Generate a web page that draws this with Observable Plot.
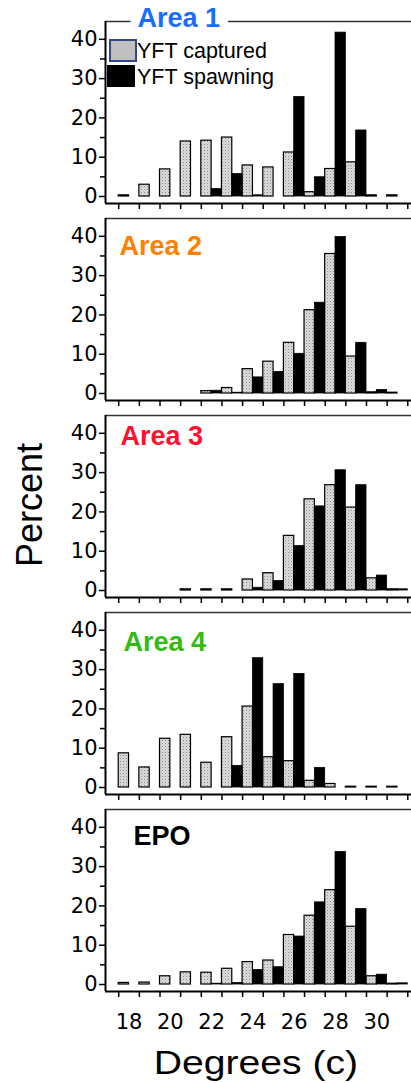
<!DOCTYPE html>
<html><head><meta charset="utf-8">
<script src="https://cdn.jsdelivr.net/npm/d3@7"></script>
<script src="https://cdn.jsdelivr.net/npm/@observablehq/plot@0.6"></script>
<style>
body{margin:0;background:#fff;}
#wrap{position:relative;width:411px;height:1083px;overflow:hidden;background:#fff;font-family:"Liberation Sans",Arial,sans-serif;}
#charts svg{display:block;}
.lab{position:absolute;color:#000;white-space:nowrap;}
</style></head><body>
<svg width="0" height="0" style="position:absolute">
  <defs>
    <pattern id="stip" width="3" height="3" patternUnits="userSpaceOnUse">
      <rect width="3" height="3" fill="#dcdcdc"/>
      <rect x="0" y="0" width="1" height="1" fill="#8a8a8a"/>
      <rect x="1.5" y="1.5" width="1" height="1" fill="#b4b4b4"/>
    </pattern>
  </defs>
</svg>
<div id="wrap">
  <div id="charts"></div>
  <div class="lab" style="left:109px;top:39px;width:24px;height:19px;background:#c0c0c0;border:2px solid #34498a;"></div>
  <div class="lab" style="left:107px;top:65px;width:28px;height:22px;background:#000;"></div>
  <div class="lab" style="left:137px;top:39px;font-size:21.5px;line-height:25px;">YFT captured</div>
  <div class="lab" style="left:137px;top:65px;font-size:21.5px;line-height:25px;">YFT spawning</div>
  <div class="lab" style="left:30px;top:505px;font-size:36px;transform:translate(-50%,-50%) rotate(-90deg);">Percent</div>
  <div class="lab" style="left:256px;top:1062px;font-size:34px;transform:translate(-50%,-50%) scaleX(1.15);">Degrees (c)</div>
</div>
<script>
// ---- data ----
const degrees = [18, 19, 20, 21, 22, 23, 24, 25, 26, 27, 28, 29, 30, 31];
const areaNames = ["Area 1", "Area 2", "Area 3", "Area 4", "EPO"];
const areaColors = ["#1a6cff", "#ff8000", "#ff1030", "#33bb11", "#000000"];
const xTickLabels = [18, 20, 22, 24, 26, 28, 30];
const xTickEdges = [17.5, 18.5, 19.5, 20.5, 21.5, 22.5, 23.5, 24.5, 25.5, 26.5, 27.5, 28.5, 29.5, 30.5, 31.5];
const yTicks = [0, 10, 20, 30, 40];
const yMinorTicks = [5, 15, 25, 35];

const area1Captured = [0.3, 3.0, 6.9, 14.0, 14.2, 15.0, 7.9, 7.4, 11.2, 1.1, 7.0, 8.7, 0.3, 0.3];
const area1Spawning = [0, 0, 0, 0, 1.9, 5.7, 0.3, 0, 25.3, 4.9, 41.7, 16.8, 0, 0];
const area2Captured = [0, 0, 0, 0, 0.6, 1.4, 6.2, 8.1, 12.9, 21.2, 35.5, 9.4, 0.3, 0.2];
const area2Spawning = [0, 0, 0, 0, 0.7, 0.2, 4.1, 5.5, 10.1, 23.1, 39.8, 12.9, 0.9, 0];
const area3Captured = [0, 0, 0, 0.3, 0.3, 0.3, 2.8, 4.4, 13.9, 23.2, 26.8, 21.1, 3.1, 0.3];
const area3Spawning = [0, 0, 0, 0, 0, 0, 0.7, 2.4, 11.3, 21.4, 30.6, 26.8, 3.8, 0.3];
const area4Captured = [8.7, 5.1, 12.4, 13.4, 6.3, 12.8, 20.6, 7.7, 6.7, 1.7, 0.9, 0.2, 0.2, 0.2];
const area4Spawning = [0, 0, 0, 0, 0, 5.5, 32.9, 26.3, 28.9, 5.0, 0, 0, 0, 0];
const epoCaptured = [0.4, 0.5, 2.1, 3.1, 3.0, 4.0, 5.7, 6.1, 12.6, 17.5, 24.0, 14.7, 2.1, 0.2];
const epoSpawning = [0, 0, 0, 0, 0.2, 0.4, 3.7, 4.4, 12.2, 20.9, 33.7, 19.2, 2.5, 0.3];

const captured = [area1Captured, area2Captured, area3Captured, area4Captured, epoCaptured];
const spawning = [area1Spawning, area2Spawning, area3Spawning, area4Spawning, epoSpawning];
const titleOffsets = [[32, -3], [14, 28], [15, 21], [18, 30], [28, 27]];

const xDomain = [16.86, 31.68];
const yDomain = [-1.78, 44.53];
const tickFont = "DejaVu Sans, sans-serif";

const host = document.getElementById("charts");
areaNames.forEach((name, i) => {
  const cap = degrees.map((d, j) => ({deg: d, v: captured[i][j]})).filter(r => r.v > 0);
  const spa = degrees.map((d, j) => ({deg: d, v: spawning[i][j]})).filter(r => r.v > 0);
  const first = i === 0, last = i === areaNames.length - 1;
  const marginTop = first ? 21 : 10;
  const marginBottom = last ? 40 : 5;
  const marks = [
    Plot.rectY(cap, {x1: d => d.deg - 0.5, x2: d => d.deg, y1: 0, y2: "v", fill: "url(#stip)", stroke: "#000", strokeWidth: 1.2}),
    Plot.rectY(spa, {x1: d => d.deg, x2: d => d.deg + 0.5, y1: 0, y2: "v", fill: "#000", stroke: "#000", strokeWidth: 0.8}),
    Plot.ruleY([yDomain[1]], {stroke: "#333", strokeWidth: 1.6}),
    Plot.ruleY([yDomain[0]], {stroke: "#000", strokeWidth: 2}),
    Plot.ruleX([xDomain[0]], {stroke: "#000", strokeWidth: 2}),
    Plot.axisY({ticks: yTicks, tickSize: 6, tickPadding: 2, fontSize: 21, fontFamily: tickFont, strokeWidth: 1.5, label: null}),
    Plot.axisY({ticks: yMinorTicks, tickSize: 5, tickFormat: () => "", strokeWidth: 1.5, label: null}),
    Plot.axisX({ticks: xTickEdges, tickSize: 6, tickFormat: () => "", strokeWidth: 1.5, label: null}),
    Plot.text([name], {
      frameAnchor: "top-left", text: d => d, dx: titleOffsets[i][0], dy: titleOffsets[i][1],
      textAnchor: "start", lineAnchor: "middle", fill: areaColors[i], fontSize: 27, fontWeight: "bold",
      fontFamily: "Liberation Sans, Arial, sans-serif",
      stroke: first ? "white" : "none", strokeWidth: first ? 18 : 0
    })
  ];
  if (last) {
    marks.push(Plot.axisX({ticks: xTickLabels, tickSize: 0, tickPadding: 23, fontSize: 21, fontFamily: tickFont, label: null}));
  }
  const chart = Plot.plot({
    width: 411,
    height: marginTop + 182 + marginBottom,
    marginLeft: 105, marginRight: 0, marginTop, marginBottom,
    x: {domain: xDomain, label: null},
    y: {domain: yDomain, label: null},
    style: {background: "transparent", color: "#000", fontFamily: tickFont, overflow: "visible"},
    marks
  });
  host.appendChild(chart);
});
</script>
</body></html>
